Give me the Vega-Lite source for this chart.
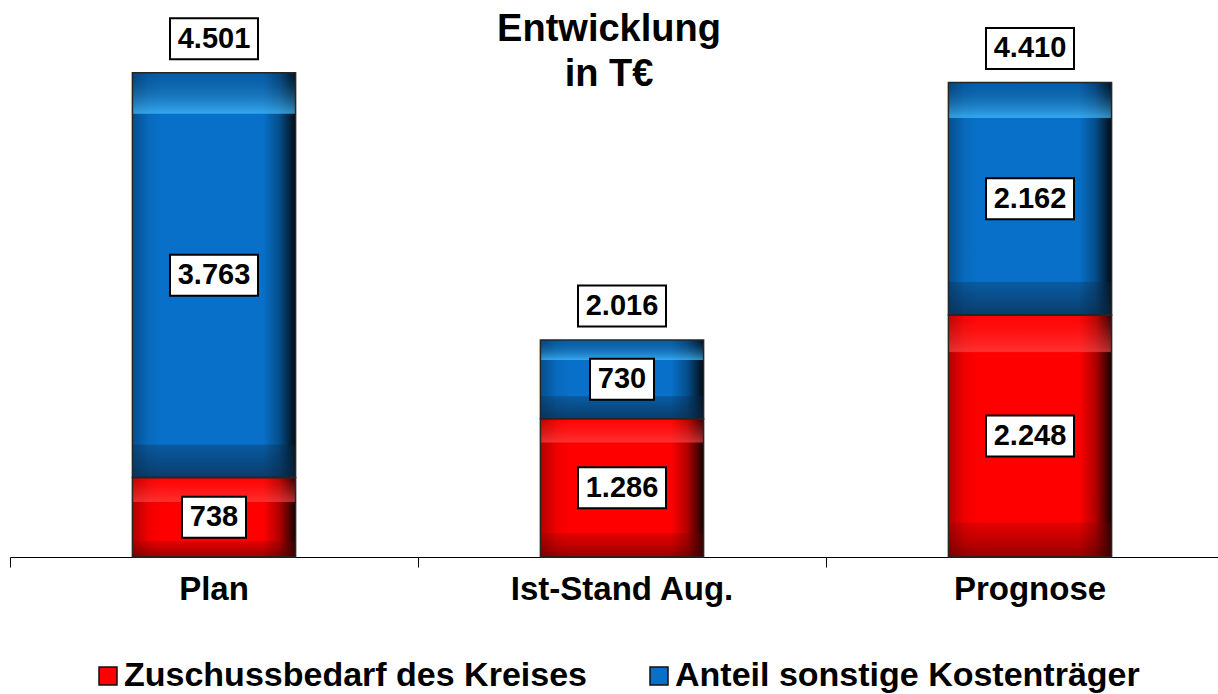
{
  "$schema": "https://vega.github.io/schema/vega-lite/v6.json",
  "autosize": "none",
  "width": 1208,
  "height": 538,
  "padding": {"left": 10, "top": 19, "right": 0, "bottom": 137},
  "background": "white",
  "config": {
    "view": {"stroke": null},
    "font": "Liberation Sans",
    "locale": {"number": {"decimal": ",", "thousands": ".", "grouping": [3], "currency": ["", " €"]}}
  },
  "title": {
    "text": ["Entwicklung", "in T€"],
    "anchor": "middle",
    "frame": "group",
    "font": "Liberation Sans",
    "fontSize": 38,
    "fontWeight": "bold",
    "color": "black",
    "lineHeight": 45,
    "baseline": "top",
    "offset": -80,
    "dx": -5
  },
  "datasets": {
    "seg": [
      {"cat": "Plan", "series": "Zuschussbedarf des Kreises", "v": 738, "lo": 0, "hi": 738},
      {"cat": "Plan", "series": "Anteil sonstige Kostenträger", "v": 3763, "lo": 738, "hi": 4501},
      {"cat": "Ist-Stand Aug.", "series": "Zuschussbedarf des Kreises", "v": 1286, "lo": 0, "hi": 1286},
      {"cat": "Ist-Stand Aug.", "series": "Anteil sonstige Kostenträger", "v": 730, "lo": 1286, "hi": 2016},
      {"cat": "Prognose", "series": "Zuschussbedarf des Kreises", "v": 2248, "lo": 0, "hi": 2248},
      {"cat": "Prognose", "series": "Anteil sonstige Kostenträger", "v": 2162, "lo": 2248, "hi": 4410}
    ],
    "tot": [
      {"cat": "Plan", "total": 4501},
      {"cat": "Ist-Stand Aug.", "total": 2016},
      {"cat": "Prognose", "total": 4410}
    ]
  },
  "encoding": {
    "x": {
      "field": "cat",
      "type": "nominal",
      "sort": ["Plan", "Ist-Stand Aug.", "Prognose"],
      "scale": {"range": [0, 1224], "paddingInner": 0, "paddingOuter": 0},
      "axis": {
        "title": null,
        "labelAngle": 0,
        "labelFont": "Liberation Sans",
        "labelFontSize": 33,
        "labelFontWeight": "bold",
        "labelColor": "black",
        "labelPadding": 6,
        "labelLimit": 600,
        "tickSize": 10,
        "tickColor": "black",
        "tickWidth": 1,
        "domainColor": "black",
        "domainWidth": 1,
        "bandPosition": 0,
        "grid": false
      }
    }
  },
  "layer": [
    {
      "data": {"name": "seg"},
      "mark": {"type": "bar", "width": {"band": 0.4}, "opacity": 1},
      "encoding": {
        "y": {"field": "lo", "type": "quantitative", "scale": {"domain": [0, 5000], "nice": false, "zero": true}, "axis": null},
        "y2": {"field": "hi"},
        "color": {
          "field": "series",
          "type": "nominal",
          "scale": {"domain": ["Zuschussbedarf des Kreises", "Anteil sonstige Kostenträger"], "range": ["#ff0000", "#0870c8"]},
          "legend": {
            "title": null,
            "orient": "none",
            "legendX": 81,
            "legendY": 640,
            "direction": "horizontal",
            "columns": 2,
            "columnPadding": 55,
            "padding": 0,
            "labelFont": "Liberation Sans",
            "labelFontSize": 34,
            "labelFontWeight": "bold",
            "labelColor": "black",
            "labelLimit": 600,
            "labelOffset": -1,
            "symbolType": "square",
            "symbolSize": 324,
            "symbolStrokeColor": "#111111",
            "symbolStrokeWidth": 1.5,
            "symbolOpacity": 1
          }
        }
      }
    },
    {
      "data": {"name": "seg"},
      "mark": {
        "type": "bar",
        "width": {"band": 0.4},
        "fill": {
          "gradient": "linear", "x1": 0, "y1": 0, "x2": 1, "y2": 0,
          "stops": [
            {"offset": 0, "color": "rgba(0,0,0,0.3)"},
            {"offset": 0.1, "color": "rgba(0,0,0,0.06)"},
            {"offset": 0.18, "color": "rgba(0,0,0,0)"},
            {"offset": 0.8, "color": "rgba(0,0,0,0)"},
            {"offset": 0.9, "color": "rgba(0,0,0,0.3)"},
            {"offset": 1, "color": "rgba(0,0,0,0.9)"}
          ]
        }
      },
      "encoding": {"y": {"field": "lo", "type": "quantitative"}, "y2": {"field": "hi"}}
    },
    {
      "data": {"name": "seg"},
      "mark": {"type": "bar", "width": {"band": 0.4}},
      "encoding": {
        "y": {"field": "lo", "type": "quantitative"},
        "y2": {"field": "hi"},
        "fill": {
          "condition": [
            {
              "test": "datum.v == 738",
              "value": {
                "gradient": "linear", "x1": 0, "y1": 0, "x2": 0, "y2": 1,
                "stops": [
                  {"offset": 0, "color": "rgba(255,40,40,0.1)"},
                  {"offset": 0.3, "color": "rgba(255,80,80,0.6)"},
                  {"offset": 0.31, "color": "rgba(255,80,80,0)"},
                  {"offset": 0.79, "color": "rgba(120,0,0,0)"},
                  {"offset": 0.8, "color": "rgba(120,0,0,0.2)"},
                  {"offset": 1, "color": "rgba(80,0,0,0.6)"}
                ]
              }
            },
            {
              "test": "datum.v == 1286",
              "value": {
                "gradient": "linear", "x1": 0, "y1": 0, "x2": 0, "y2": 1,
                "stops": [
                  {"offset": 0, "color": "rgba(255,40,40,0.1)"},
                  {"offset": 0.17, "color": "rgba(255,80,80,0.6)"},
                  {"offset": 0.175, "color": "rgba(255,80,80,0)"},
                  {"offset": 0.825, "color": "rgba(120,0,0,0)"},
                  {"offset": 0.83, "color": "rgba(120,0,0,0.2)"},
                  {"offset": 1, "color": "rgba(80,0,0,0.6)"}
                ]
              }
            },
            {
              "test": "datum.v == 2248",
              "value": {
                "gradient": "linear", "x1": 0, "y1": 0, "x2": 0, "y2": 1,
                "stops": [
                  {"offset": 0, "color": "rgba(255,40,40,0.1)"},
                  {"offset": 0.15, "color": "rgba(255,80,80,0.6)"},
                  {"offset": 0.155, "color": "rgba(255,80,80,0)"},
                  {"offset": 0.855, "color": "rgba(120,0,0,0)"},
                  {"offset": 0.86, "color": "rgba(120,0,0,0.2)"},
                  {"offset": 1, "color": "rgba(80,0,0,0.6)"}
                ]
              }
            },
            {
              "test": "datum.v == 730",
              "value": {
                "gradient": "linear", "x1": 0, "y1": 0, "x2": 0, "y2": 1,
                "stops": [
                  {"offset": 0, "color": "rgba(0,40,80,0.25)"},
                  {"offset": 0.25, "color": "rgba(70,190,255,0.7)"},
                  {"offset": 0.26, "color": "rgba(70,190,255,0)"},
                  {"offset": 0.71, "color": "rgba(10,40,70,0)"},
                  {"offset": 0.72, "color": "rgba(10,40,70,0.3)"},
                  {"offset": 1, "color": "rgba(10,40,70,0.7)"}
                ]
              }
            },
            {
              "test": "datum.v == 2162",
              "value": {
                "gradient": "linear", "x1": 0, "y1": 0, "x2": 0, "y2": 1,
                "stops": [
                  {"offset": 0, "color": "rgba(0,40,80,0.25)"},
                  {"offset": 0.15, "color": "rgba(70,190,255,0.7)"},
                  {"offset": 0.155, "color": "rgba(70,190,255,0)"},
                  {"offset": 0.855, "color": "rgba(10,40,70,0)"},
                  {"offset": 0.86, "color": "rgba(10,40,70,0.3)"},
                  {"offset": 1, "color": "rgba(10,40,70,0.7)"}
                ]
              }
            }
          ],
          "value": {
            "gradient": "linear", "x1": 0, "y1": 0, "x2": 0, "y2": 1,
            "stops": [
              {"offset": 0, "color": "rgba(0,40,80,0.25)"},
              {"offset": 0.1, "color": "rgba(70,190,255,0.7)"},
              {"offset": 0.103, "color": "rgba(70,190,255,0)"},
              {"offset": 0.917, "color": "rgba(10,40,70,0)"},
              {"offset": 0.92, "color": "rgba(10,40,70,0.3)"},
              {"offset": 1, "color": "rgba(10,40,70,0.7)"}
            ]
          }
        }
      }
    },
    {
      "data": {"name": "seg"},
      "mark": {"type": "bar", "width": {"band": 0.4}, "fill": "white", "fillOpacity": 0, "stroke": "#262626", "strokeWidth": 1.5},
      "encoding": {"y": {"field": "lo", "type": "quantitative"}, "y2": {"field": "hi"}}
    },
    {
      "data": {"name": "seg"},
      "transform": [
        {"fold": ["lo", "hi"], "as": ["k", "yv"]},
        {"aggregate": [{"op": "mean", "field": "yv", "as": "mid"}], "groupby": ["cat", "series", "v"]}
      ],
      "layer": [
        {
          "transform": [{"filter": "datum.v >= 1000"}],
          "mark": {"type": "point", "shape": "M-44,-20.5H44V20.5H-44Z", "size": 4, "filled": true, "fill": "white", "stroke": "black", "strokeWidth": 2, "opacity": 1},
          "encoding": {"y": {"field": "mid", "type": "quantitative"}}
        },
        {
          "transform": [{"filter": "datum.v < 1000"}],
          "mark": {"type": "point", "shape": "M-32,-20.5H32V20.5H-32Z", "size": 4, "filled": true, "fill": "white", "stroke": "black", "strokeWidth": 2, "opacity": 1},
          "encoding": {"y": {"field": "mid", "type": "quantitative"}}
        },
        {
          "mark": {"type": "text", "font": "Liberation Sans", "fontSize": 29, "fontWeight": "bold", "color": "black", "baseline": "middle", "align": "center"},
          "encoding": {"y": {"field": "mid", "type": "quantitative"}, "text": {"field": "v", "type": "quantitative", "format": ",d"}}
        }
      ]
    },
    {
      "data": {"name": "tot"},
      "layer": [
        {
          "mark": {"type": "point", "shape": "M-44,-20.5H44V20.5H-44Z", "size": 4, "filled": true, "fill": "white", "stroke": "black", "strokeWidth": 2, "opacity": 1, "yOffset": -34},
          "encoding": {"y": {"field": "total", "type": "quantitative"}}
        },
        {
          "mark": {"type": "text", "font": "Liberation Sans", "fontSize": 29, "fontWeight": "bold", "color": "black", "baseline": "middle", "align": "center", "yOffset": -34},
          "encoding": {"y": {"field": "total", "type": "quantitative"}, "text": {"field": "total", "type": "quantitative", "format": ",d"}}
        }
      ]
    }
  ]
}
